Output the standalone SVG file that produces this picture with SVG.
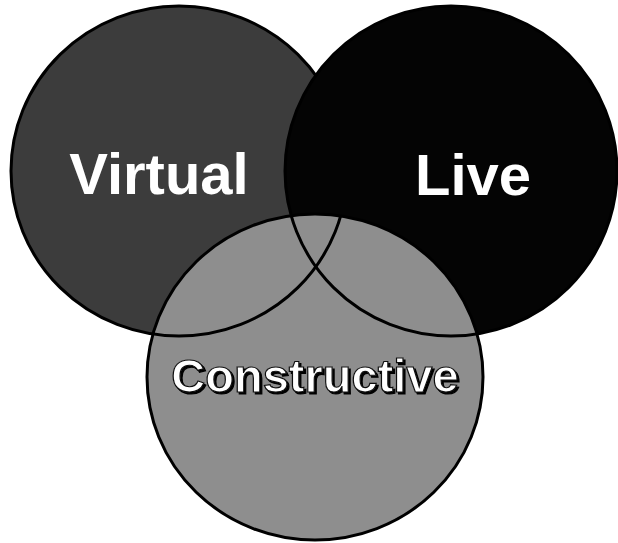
<svg xmlns="http://www.w3.org/2000/svg" width="618" height="543" viewBox="0 0 618 543">
<style>
.circ{stroke:#000;stroke-width:3}
.outline{fill:none;stroke:#000;stroke-width:3}
.lbl{font-family:"Liberation Sans",Arial,Helvetica,sans-serif;font-weight:bold;fill:#fff}
.shad{stroke:#111;stroke-width:1.2;filter:url(#ds)}
</style>
<defs>
<clipPath id="cclip"><ellipse cx="315" cy="377" rx="168" ry="163"/></clipPath>
<filter id="ds" x="-10%" y="-30%" width="120%" height="160%">
<feDropShadow dx="2" dy="2" stdDeviation="0.4" flood-color="#000" flood-opacity="1"/>
</filter>
</defs>
<rect width="618" height="543" fill="#fff"/>
<g id="virtual">
<ellipse class="circ" cx="179" cy="171" rx="168" ry="165" fill="#3c3c3c"/>
</g>
<g id="live">
<ellipse class="circ" cx="451" cy="171" rx="166" ry="165" fill="#040404"/>
</g>
<g id="constructive">
<ellipse class="circ" cx="315" cy="377" rx="168" ry="163" fill="#8e8e8e"/>
</g>
<g id="connectors" clip-path="url(#cclip)">
<ellipse class="outline" cx="179" cy="171" rx="168" ry="165"/>
<ellipse class="outline" cx="451" cy="171" rx="166" ry="165"/>
</g>
<g id="labels">
<text class="lbl" x="159" y="194" font-size="58" text-anchor="middle">Virtual</text>
<text class="lbl" x="473" y="195" font-size="58" text-anchor="middle">Live</text>
<text class="lbl shad" x="315" y="392" font-size="47" text-anchor="middle">Constructive</text>
</g>
</svg>
